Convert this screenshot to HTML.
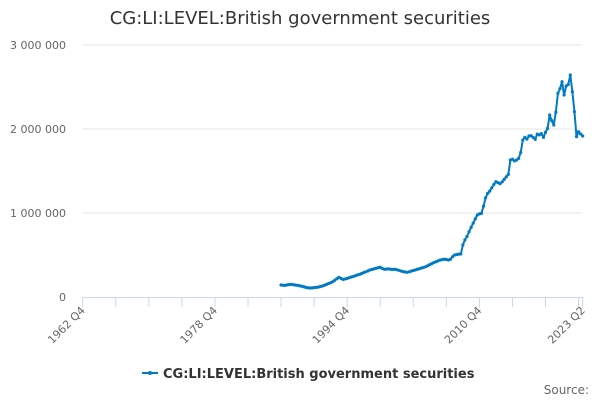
<!DOCTYPE html>
<html><head><meta charset="utf-8">
<style>
html,body{margin:0;padding:0;background:#fff;}
svg{display:block;font-family:"DejaVu Sans","Liberation Sans",sans-serif;}
</style></head>
<body>
<svg id="chart" width="600" height="400" viewBox="0 0 600 400">
  <text x="300" y="24" text-anchor="middle" font-size="18" fill="#333">CG:LI:LEVEL:British government securities</text>
  <g id="grid"></g>
  <g id="yaxis"></g>
  <g id="xaxis"></g>
  <g id="series"></g>
  <g transform="translate(142,373)">
    <line x1="0" y1="0" x2="16" y2="0" stroke="#007ac3" stroke-width="2"/>
    <circle cx="8" cy="0" r="2" fill="#007ac3"/>
    <text x="21" y="5" font-size="13" font-weight="bold" fill="#333">CG:LI:LEVEL:British government securities</text>
  </g>
  <text x="589" y="394" text-anchor="end" font-size="12" fill="#666">Source:</text>
</svg>
<script>
// Data
const startQuarterIndex = 96; // quarters after 1962 Q4
const values = [
143,140,138,145,148,151,
146,142,138,134,128,122,115,110,107,
108,112,115,118,124,131,
140,150,160,170,182,
200,218,234,222,210,
215,222,230,238,245,254,262,
270,280,290,300,310,321,
328,335,342,348,354,340,330,
332,335,330,328,330,
325,318,310,303,298,294,
300,308,315,322,330,337,
345,352,361,
372,385,398,410,420,
430,440,445,449,
447,440,449,
480,500,505,510,512,
619,680,720,777,
830,880,930,976,
990,996,
1080,1180,1234,
1260,1300,1340,1373,
1360,1350,
1370,1400,1430,1460,
1631,1640,1620,1631,
1651,1720,1869,
1900,1880,1917,
1920,1900,1877,
1940,1930,1945,1901,
1960,2008,
2167,2100,2048,
2200,2425,2480,2563,
2405,2512,2530,2643,
2444,2206,1909,1968,1940,1917
]; // thousands
const yTicks = [0, 1000000, 2000000, 3000000];
const yTickLabels = ["0", "1 000 000", "2 000 000", "3 000 000"];
const xLabelQuarters = [0, 64, 128, 192, 242];
const xLabels = ["1962 Q4", "1978 Q4", "1994 Q4", "2010 Q4", "2023 Q2"];
const xMinorTicks = 16;

const NS = "http://www.w3.org/2000/svg";
const X0 = 82.7, X1 = 582.7, QMAX = 242, Y0 = 297, Y1 = 45, YMAX = 3000000;
const xs = q => X0 + (X1 - X0) * q / QMAX;
const ys = v => Y0 - (Y0 - Y1) * v / YMAX;
function mk(tag, attrs, parent) {
  const e = document.createElementNS(NS, tag);
  for (const k in attrs) e.setAttribute(k, attrs[k]);
  parent.appendChild(e);
  return e;
}
const grid = document.getElementById('grid');
const yaxis = document.getElementById('yaxis');
const xaxis = document.getElementById('xaxis');
const series = document.getElementById('series');

yTicks.forEach((v, i) => {
  if (v > 0) {
    const g = mk('line', {x1: X0, x2: X1, y1: ys(v), y2: ys(v), stroke: '#e6e6e6', 'stroke-width': 1}, grid);
    
    
  }
  const t = mk('text', {x: 66, y: ys(v) + 4, 'text-anchor': 'end', 'font-size': 11, fill: '#666'}, yaxis);
  t.textContent = yTickLabels[i];
  
  
});

const ax = mk('line', {x1: X0, x2: X1, y1: Y0 + 0.5, y2: Y0 + 0.5, stroke: '#ccd6eb', 'stroke-width': 1}, xaxis);


for (let q = 0; q <= QMAX; q += xMinorTicks) {
  const tk = mk('line', {x1: xs(q), x2: xs(q), y1: Y0, y2: Y0 + 10, stroke: '#ccd6eb', 'stroke-width': 1}, xaxis);
  
  
}
const endTick = mk('line', {x1: xs(QMAX), x2: xs(QMAX), y1: Y0, y2: Y0 + 10, stroke: '#ccd6eb', 'stroke-width': 1}, xaxis);


xLabelQuarters.forEach((q, i) => {
  const x = xs(q) + 3, y = Y0 + 14;
  const t = mk('text', {x: x, y: y, 'text-anchor': 'end', 'font-size': 11, fill: '#666', transform: `rotate(-45 ${x} ${y})`}, xaxis);
  t.textContent = xLabels[i];
  
  
});

const pts = values.map((v, i) => [xs(startQuarterIndex + i), ys(v * 1000)]);
const path = mk('path', {d: 'M' + pts.map(p => p[0].toFixed(2) + ',' + p[1].toFixed(2)).join('L'), fill: 'none', stroke: '#007ac3', 'stroke-width': 2, 'stroke-linejoin': 'round'}, series);


pts.forEach(p => {
  const c = mk('circle', {cx: p[0], cy: p[1], r: 1.6, fill: '#007ac3'}, series);
  
  
});
</script>
</body></html>
